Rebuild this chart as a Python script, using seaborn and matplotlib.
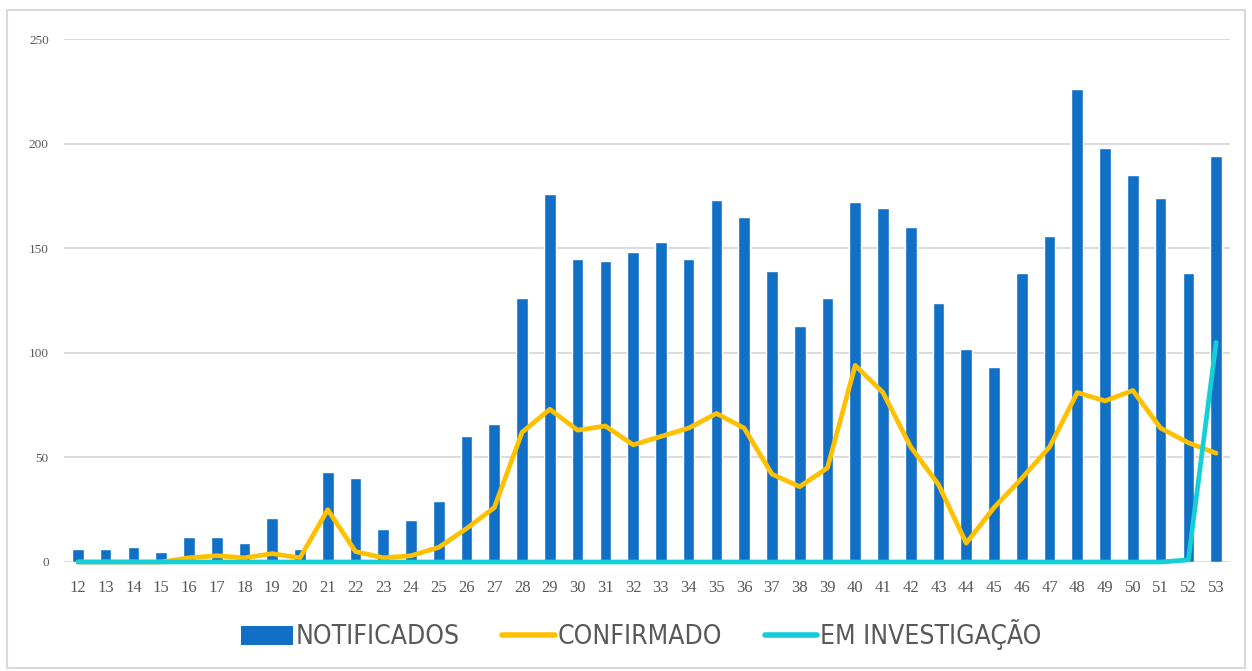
import numpy as np
import pandas as pd
import matplotlib
matplotlib.use("Agg")
import matplotlib.pyplot as plt
import seaborn as sns
from matplotlib.patches import Rectangle, Patch
from matplotlib.lines import Line2D
from matplotlib import font_manager

weeks = list(range(12, 54))
notificados = [6, 6, 7, 5, 12, 12, 9, 21, 6, 43, 40, 16, 20, 29, 60, 66, 126, 176, 145, 144,
               148, 153, 145, 173, 165, 139, 113, 126, 172, 169, 160, 124, 102, 93, 138, 156,
               226, 198, 185, 174, 138, 194]
confirmado = [0, 0, 0, 0, 2, 3, 2, 4, 2, 25, 5, 2, 3, 7, 16, 26, 62, 73, 63, 65,
              56, 60, 64, 71, 64, 42, 36, 45, 94, 81, 55, 37, 9, 26, 40, 55,
              81, 77, 82, 64, 57, 52]
investigacao = [0] * 40 + [1, 105]
yticks = [0, 50, 100, 150, 200, 250]

BLUE = "#1170C6"
YELLOW = "#FFC000"
CYAN = "#14CFD8"
GRID = "#D9D9D9"
TXT = "#595959"

sns.set_theme(style="white")
plt.rcParams["font.family"] = ["Liberation Serif", "DejaVu Serif"]

names = {f.name for f in font_manager.fontManager.ttflist}
if "Liberation Sans Narrow" in names:
    leg_prop = {"family": ["Liberation Sans Narrow"], "size": 19}
elif "DejaVu Sans Condensed" in names:
    leg_prop = {"family": ["DejaVu Sans Condensed"], "size": 19}
else:
    leg_prop = {"family": ["DejaVu Sans"], "size": 19, "stretch": "condensed"}

fig = plt.figure(figsize=(12.52, 6.71), dpi=100)
W, H = 1252, 671
ax = fig.add_axes([64 / W, 1 - 562 / H, (1230 - 64) / W, (562 - 39) / H])

df = pd.DataFrame({"semana": [str(w) for w in weeks], "notificados": notificados})
sns.barplot(data=df, x="semana", y="notificados", color=BLUE, width=0.42,
            saturation=1, ax=ax, zorder=2)
pos = np.arange(len(weeks))
sns.lineplot(x=pos, y=confirmado, color=YELLOW, lw=3.4, ax=ax, zorder=3,
             solid_capstyle="round", solid_joinstyle="round", clip_on=False)
sns.lineplot(x=pos, y=investigacao, color=CYAN, lw=3.4, ax=ax, zorder=4,
             solid_capstyle="round", solid_joinstyle="round", clip_on=False)

ax.set_xlim(-0.5, len(weeks) - 0.5)
ax.set_ylim(0, 250)
ax.set_yticks(yticks)
ax.set_yticklabels([str(t) for t in yticks], fontsize=9.5, color=TXT)
ax.set_xticks(pos)
ax.set_xticklabels([str(w) for w in weeks], fontsize=12, color=TXT)
ax.tick_params(axis="y", length=0, pad=11)
ax.tick_params(axis="x", length=0, pad=13)
ax.set_xlabel("")
ax.set_ylabel("")
for s in ax.spines.values():
    s.set_visible(False)
ax.yaxis.grid(True, color=GRID, lw=1.3, zorder=0)
ax.set_axisbelow(True)

handles = [Patch(facecolor=BLUE, edgecolor="none"),
           Line2D([0], [0], color=YELLOW, lw=4, solid_capstyle="round"),
           Line2D([0], [0], color=CYAN, lw=4, solid_capstyle="round")]
labels = ["NOTIFICADOS", "CONFIRMADO", "EM INVESTIGAÇÃO"]
leg = fig.legend(handles, labels, loc="center", bbox_to_anchor=(641 / W, 1 - 635 / H),
                 ncol=3, frameon=False, handlelength=2.0, handleheight=0.7,
                 handletextpad=0.1, columnspacing=1.6, prop=leg_prop)
for t in leg.get_texts():
    t.set_color(TXT)

fig.patches.append(Rectangle((7 / W, 3 / H), (1245 - 7) / W, (661 - 3) / H,
                             transform=fig.transFigure, fill=False,
                             edgecolor=GRID, lw=1.5))

fig.savefig("out.png", dpi=100)
